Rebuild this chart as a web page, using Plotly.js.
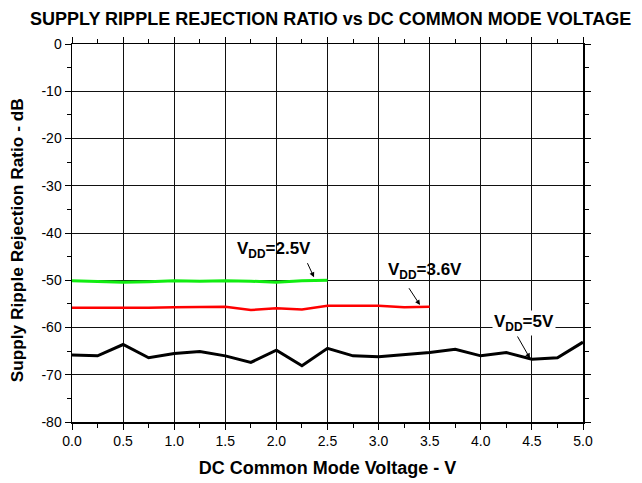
<!DOCTYPE html>
<html>
<head>
<meta charset="utf-8">
<script src="https://cdn.plot.ly/plotly-3.0.1.min.js"></script>
<style>html,body{margin:0;padding:0;background:#fff;}#chart{width:642px;height:483px;}</style>
</head>
<body>
<div id="chart"></div>
<script>
// DC common mode voltage (V)
const vcm = [0, 0.25, 0.5, 0.75, 1.0, 1.25, 1.5, 1.75, 2.0, 2.25, 2.5, 2.75, 3.0, 3.25, 3.5, 3.75, 4.0, 4.25, 4.5, 4.75, 5.0];
// Supply ripple rejection ratio (dB)
const srr25 = [-50.1, -50.2, -50.4, -50.3, -50.1, -50.2, -50.1, -50.2, -50.4, -50.1, -50.0];
const srr36 = [-55.8, -55.8, -55.9, -55.8, -55.7, -55.7, -55.6, -56.3, -55.9, -56.2, -55.4, -55.4, -55.4, -55.7, -55.6];
const srr5 = [-65.8, -66.0, -63.6, -66.4, -65.5, -65.1, -66.0, -67.4, -64.8, -68.1, -64.4, -66.0, -66.2, -65.8, -65.3, -64.6, -66.0, -65.3, -66.7, -66.4, -63.1];
const xTicks = [0, 0.5, 1, 1.5, 2, 2.5, 3, 3.5, 4, 4.5, 5];
const xTickText = ['0.0', '0.5', '1.0', '1.5', '2.0', '2.5', '3.0', '3.5', '4.0', '4.5', '5.0'];
const yTicks = [0, -10, -20, -30, -40, -50, -60, -70, -80];
const yTickText = ['0', '-10', '-20', '-30', '-40', '-50', '-60', '-70', '-80'];
const labels = ['V<sub>DD</sub>=2.5V', 'V<sub>DD</sub>=3.6V', 'V<sub>DD</sub>=5V'];
// label positions and arrow (head / tail) positions in data units
const labelPos = [[1.977, -43.7], [3.45, -48.1], [4.423, -59.0]];
const arrowHead = [[2.368, -49.38], [3.405, -55.24], [4.481, -66.52]];
const arrowTail = [[2.297, -46.07], [3.288, -51.37], [4.351, -61.59]];

const FONT = 'Liberation Sans, Arial, sans-serif';
const traces = [
  {x: vcm.slice(0, srr5.length), y: srr5, mode: 'lines', line: {color: '#000000', width: 3}},
  {x: vcm.slice(0, srr36.length), y: srr36, mode: 'lines', line: {color: '#ff0000', width: 2.5}},
  {x: vcm.slice(0, srr25.length), y: srr25, mode: 'lines', line: {color: '#11ee11', width: 3}}
];

const annotations = [];
labels.forEach((t, i) => {
  annotations.push({
    x: labelPos[i][0], y: labelPos[i][1], xref: 'x', yref: 'y',
    text: '<b>' + t + '</b>', showarrow: false,
    font: {family: FONT, size: 17, color: '#000'},
    bgcolor: i === 2 ? '#ffffff' : 'rgba(0,0,0,0)',
    xanchor: 'center', yanchor: 'middle', borderpad: 1
  });
  annotations.push({
    x: arrowHead[i][0], y: arrowHead[i][1], xref: 'x', yref: 'y',
    ax: arrowTail[i][0], ay: arrowTail[i][1], axref: 'x', ayref: 'y',
    text: '', showarrow: true, arrowhead: 2, arrowsize: 1, arrowwidth: 1,
    arrowcolor: '#000', standoff: 0, startstandoff: 0
  });
});
// y-axis title (placed as in the reference, slightly below the plot centre)
annotations.push({
  x: -0.108, y: 0.48, xref: 'paper', yref: 'paper', showarrow: false,
  text: '<b>Supply Ripple Rejection Ratio - dB</b>', textangle: -90,
  font: {family: FONT, size: 17.3, color: '#000'}, xanchor: 'center', yanchor: 'middle'
});

const layout = {
  width: 642, height: 483,
  margin: {l: 72, r: 59, t: 44, b: 61},
  paper_bgcolor: '#ffffff', plot_bgcolor: '#ffffff',
  showlegend: false,
  font: {family: FONT, size: 14, color: '#000'},
  title: {
    text: '<b>SUPPLY RIPPLE REJECTION RATIO vs DC COMMON MODE VOLTAGE</b>',
    font: {family: FONT, size: 18, color: '#000'},
    x: 0.515, xanchor: 'center', y: 0.962, yanchor: 'middle'
  },
  xaxis: {
    range: [0, 5], tickvals: xTicks, ticktext: xTickText,
    ticks: 'outside', ticklen: 6, tickwidth: 1, tickcolor: '#000',
    showline: true, linecolor: '#000', linewidth: 1.5, mirror: 'ticks',
    showgrid: true, gridcolor: '#111', gridwidth: 1, zeroline: false,
    minor: {dtick: 0.25, tick0: 0, ticks: 'outside', ticklen: 4, tickcolor: '#000', showgrid: false},
    tickfont: {family: FONT, size: 14, color: '#000'},
    title: {text: '<b>DC Common Mode Voltage - V</b>', font: {family: FONT, size: 18, color: '#000'}, standoff: 13}
  },
  yaxis: {
    range: [-80, 0], tickvals: yTicks, ticktext: yTickText,
    ticks: 'outside', ticklen: 6, tickwidth: 1, tickcolor: '#000',
    showline: true, linecolor: '#000', linewidth: 1.5, mirror: 'ticks',
    showgrid: true, gridcolor: '#111', gridwidth: 1, zeroline: false,
    minor: {dtick: 5, tick0: 0, ticks: 'outside', ticklen: 4, tickcolor: '#000', showgrid: false},
    tickfont: {family: FONT, size: 14, color: '#000'}
  },
  annotations: annotations
};

Plotly.newPlot('chart', traces, layout, {displayModeBar: false, staticPlot: true});
</script>
</body>
</html>
